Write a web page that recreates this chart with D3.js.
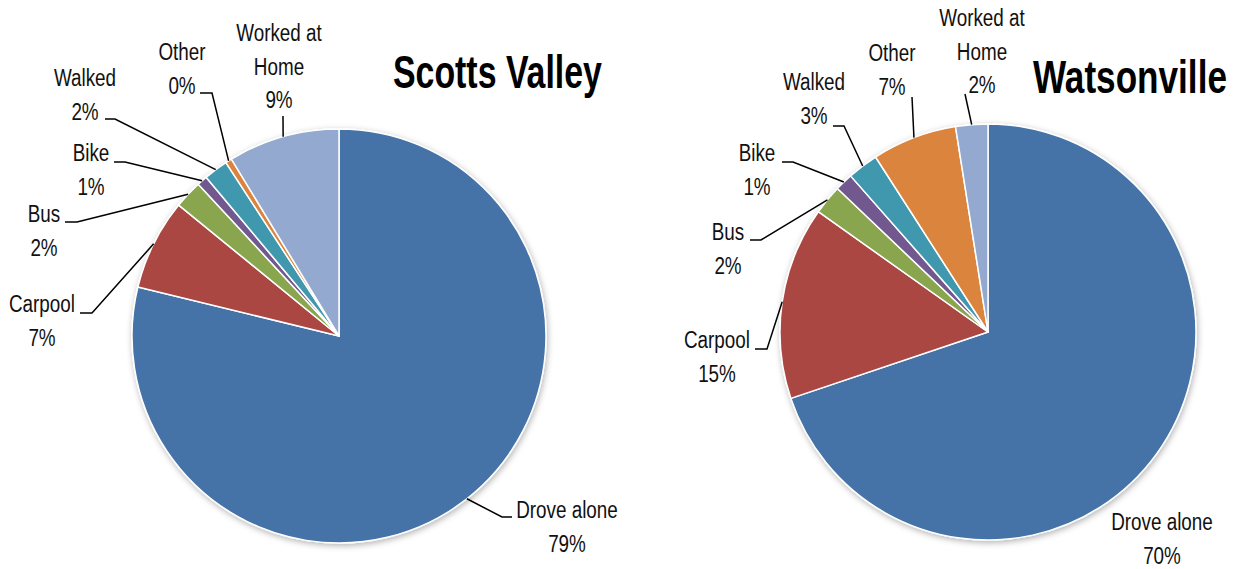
<!DOCTYPE html>
<html>
<head>
<meta charset="utf-8">
<script src="https://cdn.jsdelivr.net/npm/d3@7"></script>
<style>
    html, body { margin: 0; padding: 0; background: #fff; }
    svg text { font-family: "Liberation Sans", Arial, sans-serif; fill: #111; }
    .title { font-weight: bold; fill: #000; }
</style>
</head>
<body>
<svg id="chart" width="1239" height="569"></svg>
<script>
// Commute mode share (%), clockwise from 12 o'clock
var modes = ['Drove alone', 'Carpool', 'Bus', 'Bike', 'Walked', 'Other', 'Worked at Home'];
var scottsValley = [78.8, 7.1, 2.2, 0.8, 1.9, 0.5, 8.7];
var watsonville = [69.9, 15.0, 2.3, 1.4, 2.4, 6.6, 2.5];
var scottsLabels = ['79%', '7%', '2%', '1%', '2%', '0%', '9%'];
var watsonLabels = ['70%', '15%', '2%', '1%', '3%', '7%', '2%'];
var modeColors = ['#4572a7', '#aa4643', '#89a54e', '#71588f', '#4198af', '#db843d', '#93a9cf'];

// Label layout: text centre (x, first line y) and leader points before the arc
var scottsLayout = [
    { x: 567, y: 510, lead: [[512, 517], [502, 517]] },
    { x: 42, y: 304, lead: [[80, 313], [92, 313]] },
    { x: 44, y: 214, lead: [[65, 222], [77, 222]] },
    { x: 91, y: 153, lead: [[114, 162], [125, 162]] },
    { x: 85, y: 78, lead: [[105, 119], [115, 119]] },
    { x: 182, y: 52, lead: [[200, 93], [212, 93]] },
    { x: 279, y: 33, lead: [[283, 116]] }
];
var watsonLayout = [
    { x: 1162, y: 522, lead: null },
    { x: 717, y: 340, lead: [[755, 349], [767, 349]] },
    { x: 728, y: 232, lead: [[750, 240], [761, 240]] },
    { x: 757, y: 153, lead: [[782, 162], [793, 162]] },
    { x: 814, y: 82, lead: [[833, 126], [844, 126]] },
    { x: 892, y: 53, lead: [[912, 97]] },
    { x: 982, y: 18, lead: [[965, 94]] }
];

// no condensed face installed, so squeeze a regular one horizontally
var NARROW = 0.82;

var svg = d3.select('#chart');

var defs = svg.append('defs');
var shadow = defs.append('filter')
    .attr('id', 'shadow')
    .attr('x', '-10%').attr('y', '-10%')
    .attr('width', '120%').attr('height', '120%');
shadow.append('feDropShadow')
    .attr('dx', 1).attr('dy', 2)
    .attr('stdDeviation', 3)
    .attr('flood-color', '#000')
    .attr('flood-opacity', 0.3);

var color = d3.scaleOrdinal().domain(modes).range(modeColors);

function drawPie(opts) {
    var radius = opts.radius;
    var pie = d3.pie().sort(null).value(function(d) { return d.value; });
    var arc = d3.arc().innerRadius(0).outerRadius(radius);

    var data = modes.map(function(m, i) {
        return { mode: m, value: opts.values[i], pct: opts.labels[i], layout: opts.layout[i] };
    });
    var arcs = pie(data);

    var g = svg.append('g')
        .attr('transform', 'translate(' + opts.cx + ',' + opts.cy + ')');

    g.append('g')
        .attr('filter', 'url(#shadow)')
        .selectAll('path')
        .data(arcs)
        .enter().append('path')
        .attr('d', arc)
        .attr('fill', function(d) { return color(d.data.mode); })
        .attr('stroke', '#fff')
        .attr('stroke-width', 1.5)
        .attr('stroke-linejoin', 'round');

    // leader lines
    var line = d3.line();
    arcs.forEach(function(d) {
        var lay = d.data.layout;
        if (!lay.lead) return;
        var mid = (d.startAngle + d.endAngle) / 2;
        var end = [opts.cx + radius * Math.sin(mid), opts.cy - radius * Math.cos(mid)];
        svg.append('path')
            .attr('d', line(lay.lead.concat([end])))
            .attr('fill', 'none')
            .attr('stroke', '#000')
            .attr('stroke-width', 1.5);
    });

    // labels
    arcs.forEach(function(d) {
        var lay = d.data.layout;
        var lines = d.data.mode === 'Worked at Home' ? ['Worked at', 'Home'] : [d.data.mode];
        lines.push(d.data.pct);
        var t = svg.append('text')
            .attr('transform', 'translate(' + lay.x + ',0) scale(' + NARROW + ',1)')
            .attr('text-anchor', 'middle')
            .style('font-size', '23px');
        lines.forEach(function(s, i) {
            t.append('tspan')
                .attr('x', 0)
                .attr('y', lay.y + i * 33.5)
                .attr('dy', '0.36em')
                .text(s);
        });
    });

    // title, squeezed to the reference width
    var title = svg.append('text')
        .attr('class', 'title')
        .style('font-size', '46px')
        .text(opts.title);
    var natural = title.node().getComputedTextLength();
    title.attr('transform', 'translate(' + opts.titleX + ',' + opts.titleY + ') scale(' +
        (opts.titleWidth / natural) + ',1)');
}

drawPie({ cx: 339, cy: 336, radius: 207, values: scottsValley, labels: scottsLabels,
          layout: scottsLayout, title: 'Scotts Valley', titleX: 393, titleY: 88, titleWidth: 209 });
drawPie({ cx: 988, cy: 332, radius: 208, values: watsonville, labels: watsonLabels,
          layout: watsonLayout, title: 'Watsonville', titleX: 1033, titleY: 93, titleWidth: 194 });
</script>
</body>
</html>
